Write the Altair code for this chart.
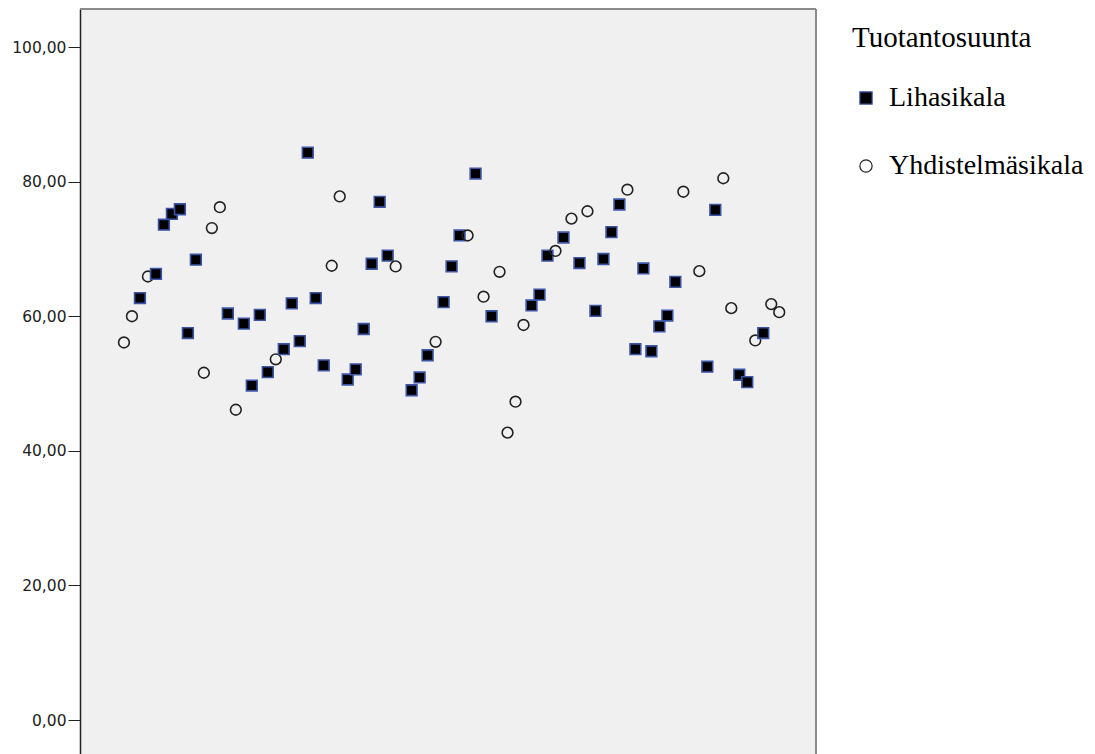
import altair as alt
import pandas as pd

# Case number, production line and measured value for each animal
tapaus = [1, 2, 3, 4, 5, 6, 7, 8, 9, 10, 11, 12, 13, 14, 15, 16, 17, 18, 19, 20,
          21, 22, 23, 24, 25, 26, 27, 28, 29, 30, 31, 32, 33, 34, 35, 37, 38, 39, 40, 41,
          42, 43, 44, 45, 46, 47, 48, 49, 50, 51, 52, 53, 54, 55, 56, 57, 58, 59, 60, 61,
          62, 63, 64, 65, 66, 67, 68, 69, 70, 71, 73, 74, 75, 76, 77, 78, 79, 80, 81, 82, 83]

L, Y = "Lihasikala", "Yhdistelmäsikala"
suunta = [Y, Y, L, Y, L, L, L, L, L, L, Y, Y, Y, L, Y, L, L, L, L, Y,
          L, L, L, L, L, L, Y, Y, L, L, L, L, L, L, Y, L, L, L, Y, L,
          L, L, Y, L, Y, L, Y, Y, Y, Y, L, L, L, Y, L, Y, L, Y, L, L,
          L, L, Y, L, L, L, L, L, L, Y, Y, L, L, Y, Y, L, L, Y, L, Y, Y]

arvo = [56.1, 60.0, 62.7, 65.9, 66.3, 73.6, 75.2, 75.9, 57.5, 68.4,
        51.6, 73.1, 76.2, 60.4, 46.1, 58.9, 49.7, 60.2, 51.7, 53.6,
        55.1, 61.9, 56.3, 84.3, 62.7, 52.7, 67.5, 77.8, 50.6, 52.1,
        58.1, 67.8, 77.0, 69.0, 67.4, 49.0, 50.9, 54.2, 56.2, 62.1,
        67.4, 72.0, 72.0, 81.2, 62.9, 60.0, 66.6, 42.7, 47.3, 58.7,
        61.6, 63.2, 69.0, 69.7, 71.7, 74.5, 67.9, 75.6, 60.8, 68.5,
        72.5, 76.6, 78.8, 55.1, 67.1, 54.8, 58.5, 60.1, 65.1, 78.5,
        66.7, 52.5, 75.8, 80.5, 61.2, 51.3, 50.2, 56.4, 57.5, 61.8, 60.6]

df = pd.DataFrame({"tapaus": tapaus, "suunta": suunta, "arvo": arvo})

W, H = 736, 745
ryhmat = [L, Y]

points = alt.Chart(df).mark_point(size=115, strokeWidth=1.6, opacity=1).encode(
    x=alt.X("tapaus:Q", scale=alt.Scale(domain=[-4.5, 87.6], nice=False, zero=False),
            axis=None),
    y=alt.Y("arvo:Q", scale=alt.Scale(domain=[-5.05, 105.65], nice=False, zero=False),
            axis=alt.Axis(values=[0, 20, 40, 60, 80, 100], title=None, grid=False,
                          labelExpr="replace(format(datum.value, '.2f'), '.', ',')",
                          labelFont="DejaVu Sans", labelFontSize=15.5,
                          labelColor="#222222", labelPadding=2,
                          tickSize=12, tickColor="#222222", tickWidth=1,
                          domainColor="#222222", domainWidth=1.5)),
    shape=alt.Shape("suunta:N", scale=alt.Scale(domain=ryhmat, range=["square", "circle"]),
                    title="Tuotantosuunta"),
    fill=alt.Fill("suunta:N", scale=alt.Scale(domain=ryhmat, range=["#000000", "transparent"]),
                  title="Tuotantosuunta"),
    stroke=alt.Stroke("suunta:N", scale=alt.Scale(domain=ryhmat, range=["#3b55a6", "#222222"]),
                      title="Tuotantosuunta"),
    order=alt.Order("tapaus:Q"),
)

# Frame along the top and right edges of the plot area
top_edge = alt.Chart(df).mark_rule(color="#8a8a8a", strokeWidth=2).encode(
    x=alt.value(0), x2=alt.value(W), y=alt.value(0))
right_edge = alt.Chart(df).mark_rule(color="#8a8a8a", strokeWidth=2).encode(
    x=alt.value(W), y=alt.value(0), y2=alt.value(H))

chart = alt.layer(top_edge, right_edge, points).properties(
    width=W, height=H,
    autosize=alt.AutoSizeParams(type="none"),
    padding={"left": 80, "top": 9, "right": 279, "bottom": 0},
).configure_view(
    fill="#f0f0f0", stroke=None
).configure_legend(
    orient="none", legendX=772, legendY=15, padding=0,
    titleFont="Liberation Serif", titleFontSize=29, titleFontWeight="normal",
    titleColor="#000000", titlePadding=31, titleLimit=0,
    labelFont="Liberation Serif", labelFontSize=28, labelColor="#000000", labelLimit=0,
    symbolSize=150, symbolStrokeWidth=1.2, symbolOffset=0, labelOffset=9,
    rowPadding=40,
)

chart.save("out.html", embed_options={"renderer": "svg", "actions": False})
